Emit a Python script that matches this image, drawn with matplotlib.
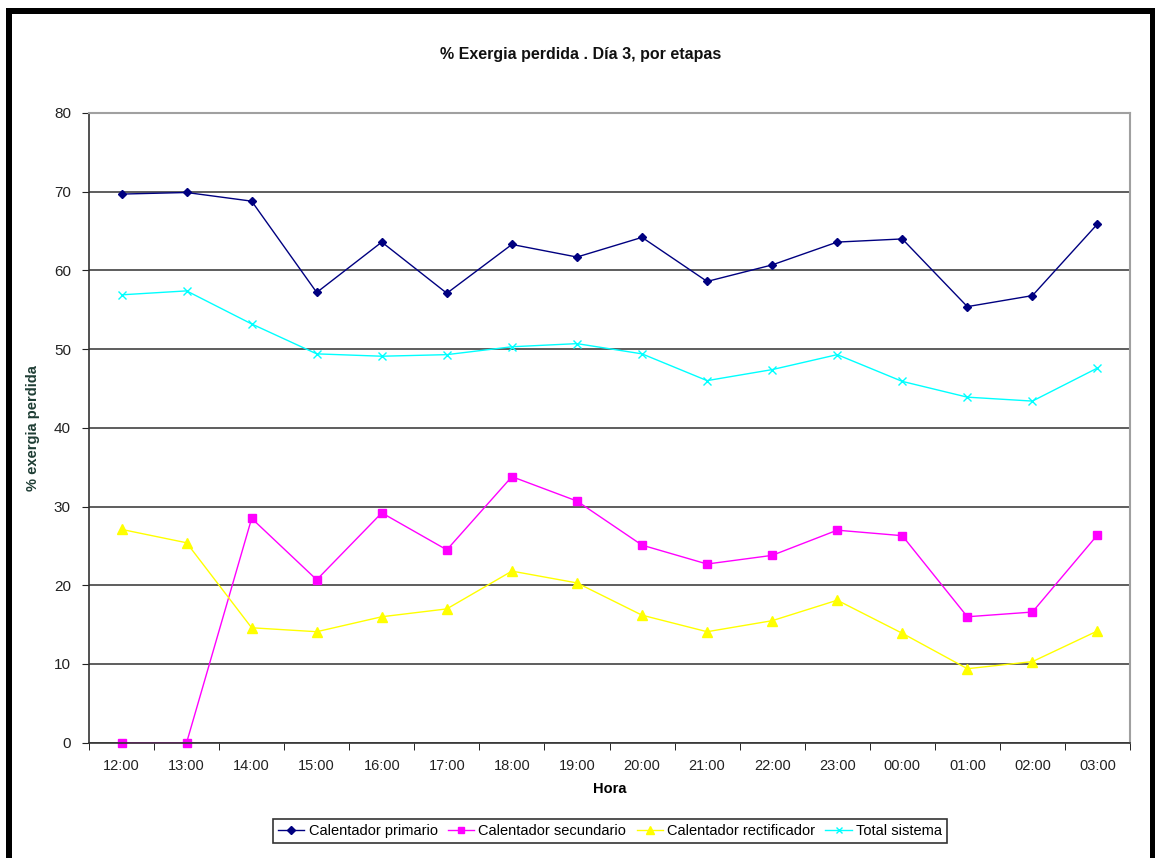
import matplotlib.pyplot as plt
from matplotlib.patches import Rectangle

# Data
horas = ["12:00", "13:00", "14:00", "15:00", "16:00", "17:00", "18:00", "19:00",
         "20:00", "21:00", "22:00", "23:00", "00:00", "01:00", "02:00", "03:00"]
primario = [69.7, 69.9, 68.8, 57.2, 63.6, 57.1, 63.3, 61.7,
            64.2, 58.6, 60.7, 63.6, 64.0, 55.4, 56.8, 65.9]
secundario = [0.0, 0.0, 28.5, 20.7, 29.2, 24.5, 33.8, 30.7,
              25.1, 22.7, 23.8, 27.0, 26.3, 16.0, 16.6, 26.4]
rectificador = [27.1, 25.4, 14.6, 14.1, 16.0, 17.0, 21.8, 20.3,
                16.2, 14.1, 15.5, 18.1, 13.9, 9.4, 10.3, 14.2]
total = [56.9, 57.4, 53.2, 49.4, 49.1, 49.3, 50.3, 50.7,
         49.4, 46.0, 47.4, 49.3, 45.9, 43.9, 43.4, 47.6]

plt.rcParams["font.family"] = ["Liberation Sans", "DejaVu Sans"]

W, H = 1155, 858
fig = plt.figure(figsize=(W / 100, H / 100), dpi=100)
ax = fig.add_axes([89 / W, 1 - 742.7 / H, (1130 - 89) / W, (742.7 - 113) / H])

x = list(range(len(horas)))
ax.plot(x, primario, color="#000080", marker="D", ms=4.5, lw=1, clip_on=False,
        label="Calentador primario")
ax.plot(x, secundario, color="#ff00ff", marker="s", ms=5.5, lw=1, clip_on=False,
        label="Calentador secundario")
ax.plot(x, rectificador, color="#ffff00", marker="^", ms=6.5, lw=1, clip_on=False,
        label="Calentador rectificador")
ax.plot(x, total, color="#00ffff", marker="x", ms=5.5, mew=1, lw=1, clip_on=False,
        label="Total sistema")

ax.set_xlim(-0.5, len(horas) - 0.5)
ax.set_ylim(0, 80)
ax.set_yticks(range(0, 81, 10))
ax.set_xticks(x)
ax.set_xticklabels(horas)
ax.set_xticks([i - 0.5 for i in range(len(horas) + 1)], minor=True)
ax.tick_params(axis="x", which="major", length=0, pad=12, labelsize=10.5, colors="#222222")
ax.tick_params(axis="x", which="minor", length=5, direction="out", color="black")
ax.tick_params(axis="y", length=5, direction="out", pad=8, labelsize=11, colors="#222222")

ax.grid(axis="y", color="#505050", lw=1.3)
ax.set_axisbelow(True)
for s in ["top", "right"]:
    ax.spines[s].set_color("#a0a0a0")
    ax.spines[s].set_linewidth(1.5)
for s in ["left", "bottom"]:
    ax.spines[s].set_color("#333333")
    ax.spines[s].set_linewidth(1.2)

fig.text(581 / W, 1 - 55 / H, "% Exergia perdida . Día 3, por etapas", fontsize=11.5,
         fontweight="bold", color="#111111", ha="center", va="center")
ax.set_xlabel("Hora", fontsize=10.5, fontweight="bold", labelpad=6)
ax.set_ylabel("% exergia perdida", fontsize=10.5, fontweight="bold",
              color="#1e3d34", labelpad=10)

leg = ax.legend(loc="center", bbox_to_anchor=(610 / W, 1 - 831 / H),
                bbox_transform=fig.transFigure, ncol=4, fontsize=10.5,
                frameon=True, fancybox=False, handlelength=1.8, markerscale=0.8,
                handletextpad=0.3, columnspacing=0.7, borderpad=0.35)
leg.get_frame().set_edgecolor("black")
leg.get_frame().set_linewidth(1.2)

# thick black frame around the chart
fig.add_artist(Rectangle((6 / W, 1 - 14 / H), (W - 6) / W, 6 / H,
                         transform=fig.transFigure, color="black", lw=0))
fig.add_artist(Rectangle((6 / W, 0), 6 / W, 1 - 8 / H,
                         transform=fig.transFigure, color="black", lw=0))
fig.add_artist(Rectangle((1150 / W, 0), 5 / W, 1 - 8 / H,
                         transform=fig.transFigure, color="black", lw=0))

fig.savefig("out.png", dpi=100)
